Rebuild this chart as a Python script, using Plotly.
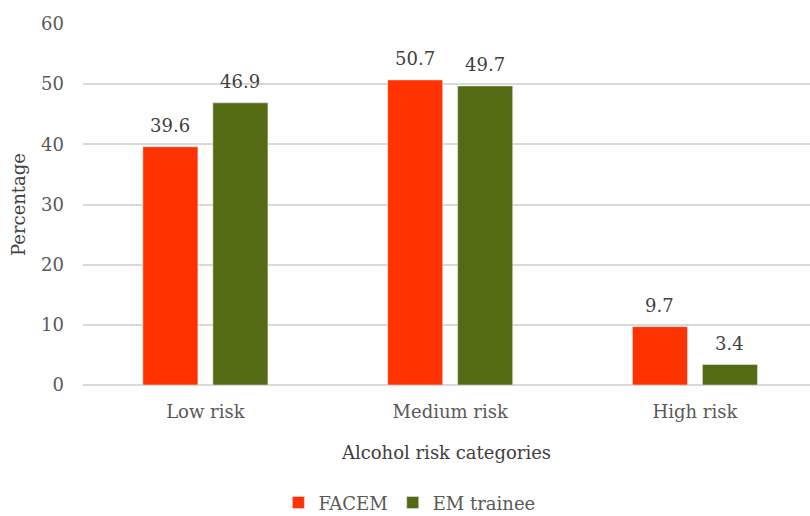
import plotly.graph_objects as go

categories = ["Low risk", "Medium risk", "High risk"]
facem = [39.6, 50.7, 9.7]
em_trainee = [46.9, 49.7, 3.4]
y_ticks = [0, 10, 20, 30, 40, 50, 60]

FONT = "DejaVu Serif"
LABEL_COLOR = "#404040"
TICK_COLOR = "#595959"

series = [
    ("FACEM", facem, "#FF3300", -35),
    ("EM trainee", em_trainee, "#556B13", 35),
]

fig = go.Figure()
for name, values, color, _ in series:
    fig.add_trace(go.Bar(name=name, x=categories, y=values, marker=dict(color=color)))

# value labels above each bar, offset to sit over its bar within the group
for name, values, color, dx in series:
    for cat, v in zip(categories, values):
        fig.add_annotation(
            x=cat, y=v, xref="x", yref="y", text=f"{v}", showarrow=False,
            xshift=dx, yshift=9, yanchor="bottom",
            font=dict(family=FONT, size=18, color=LABEL_COLOR),
        )

fig.update_layout(
    width=810, height=516,
    margin=dict(l=83, r=0, t=24, b=131, autoexpand=False),
    plot_bgcolor="white", paper_bgcolor="white",
    font=dict(family=FONT, size=18, color=TICK_COLOR),
    barmode="group", bargap=0.428, bargroupgap=0.214,
    showlegend=True,
    legend=dict(orientation="h", x=0.449, xanchor="center", y=-0.275, yanchor="top",
                font=dict(family=FONT, size=18, color=TICK_COLOR),
                itemwidth=30, tracegroupgap=0),
)
fig.update_xaxes(
    range=[-0.5, 2.47],
    showgrid=False, showline=False, ticks="",
    ticklabelstandoff=14,
    tickfont=dict(family=FONT, size=18, color=TICK_COLOR),
    title=dict(text="Alcohol risk categories", standoff=25,
               font=dict(family=FONT, size=18, color=LABEL_COLOR)),
)
fig.update_yaxes(
    range=[0, 60], tickvals=y_ticks,
    showgrid=True, gridcolor="#D9D9D9", gridwidth=1.5,
    zeroline=True, zerolinecolor="#D9D9D9", zerolinewidth=1.5,
    showline=False, ticks="",
    ticklabelstandoff=18,
    tickfont=dict(family=FONT, size=18, color=TICK_COLOR),
    title=dict(text="Percentage", standoff=10,
               font=dict(family=FONT, size=18, color=LABEL_COLOR)),
)

fig.write_html("out.html")
